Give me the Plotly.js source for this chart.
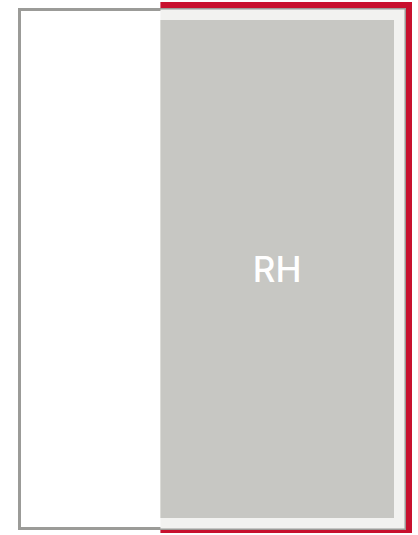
<!DOCTYPE html>
<html>
<head>
<meta charset="utf-8">
<script src="https://cdn.plot.ly/plotly-3.0.1.min.js"></script>
<style>html,body{margin:0;padding:0;background:#fff;}#chart{width:418px;height:535px;}</style>
</head>
<body>
<div id="chart"></div>
<script>
// ---- data ----
var categories = ["RH"];
var totalShare = [100];
var rhShare = [63.4];
var restShare = [36.6];

// ---- style / geometry constants ----
var W = 418, H = 535;
var pxPerX = 3.85;          // pixels per share unit
var pxPerY = 519;           // pixels per bar-band unit
var xLeftPad = 19.5, xRightPad = 13.5, yTopPad = 9.5, yBotPad = 6.5;
function dx(px){ return px / pxPerX; }
function dy(px){ return px / pxPerY; }

var red = "#c8102e", light = "#f2f2f0", grey = "#c7c7c3", stroke = "#9b9b98";

var y0 = [0];
var base = restShare.slice();

var traces = [
  { // red frame behind the RH block
    type: "bar", orientation: "h", y: y0, base: base,
    x: rhShare.map(function(v){ return v + dx(7.5); }),
    width: 1 + dy(12), offset: -0.5 - dy(4.5),
    marker: { color: red, line: { width: 0 } }, hoverinfo: "skip"
  },
  { // whole universe outline
    type: "bar", orientation: "h", y: y0, base: [0], x: totalShare,
    width: 1, marker: { color: "#ffffff", line: { color: stroke, width: 3 } },
    hoverinfo: "skip"
  },
  { // light padding of RH block
    type: "bar", orientation: "h", y: y0, base: base, x: rhShare,
    width: 1, marker: { color: light, line: { width: 0 } }, hoverinfo: "skip"
  },
  { // RH block
    type: "bar", orientation: "h", y: y0, base: base,
    x: rhShare.map(function(v){ return v - dx(10.5); }),
    width: 1 - dy(21),
    marker: { color: grey, line: { width: 0 } },
    text: categories, textposition: "inside", insidetextanchor: "middle",
    constraintext: "none", textangle: 0,
    textfont: { family: "Inter, sans-serif", size: 35, color: "#ffffff", weight: 500 },
    hoverinfo: "skip"
  }
];

var layout = {
  width: W, height: H,
  margin: { l: 0, r: 0, t: 0, b: 0, pad: 0 },
  paper_bgcolor: "#ffffff", plot_bgcolor: "#ffffff",
  barmode: "overlay", showlegend: false,
  xaxis: { range: [-dx(xLeftPad), totalShare[0] + dx(xRightPad)], visible: false, fixedrange: true },
  yaxis: { range: [-0.5 - dy(yBotPad), 0.5 + dy(yTopPad)], visible: false, fixedrange: true }
};

Plotly.newPlot("chart", traces, layout, { staticPlot: true, displayModeBar: false });
</script>
</body>
</html>
